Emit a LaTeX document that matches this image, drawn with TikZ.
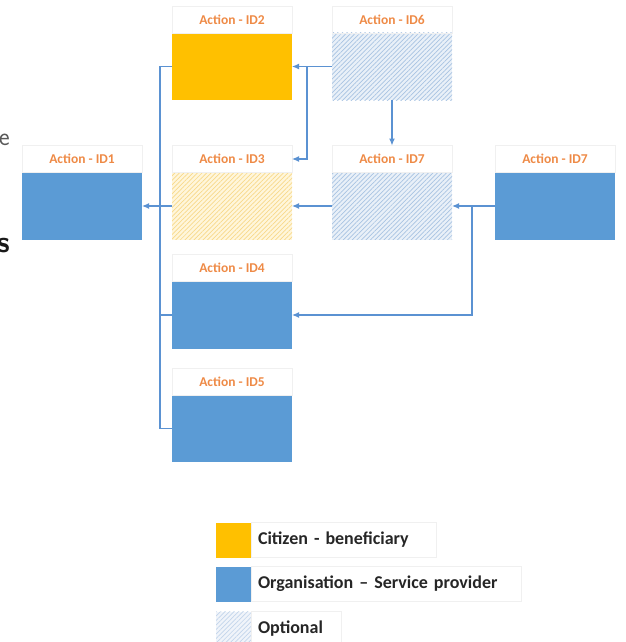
\documentclass[tikz,border=0pt]{standalone}
\usepackage{fontspec}
\setmainfont{Carlito}
\usetikzlibrary{positioning, arrows.meta, patterns.meta}

\definecolor{provblue}{HTML}{5B9BD5}
\definecolor{citzyellow}{HTML}{FFC000}
\definecolor{titleorange}{HTML}{EE8A46}
\definecolor{linkblue}{HTML}{5B92D2}
\definecolor{optbluebg}{HTML}{E9F0F8}
\definecolor{optblueln}{HTML}{A8C3E2}
\definecolor{optyellowbg}{HTML}{FFF6DB}
\definecolor{optyellowln}{HTML}{F8D98A}
\definecolor{faint}{HTML}{F0F0F0}

\begin{document}
\begin{tikzpicture}[
		x=1pt, y=-1pt,
		action/.style={minimum width=120pt, minimum height=67pt, inner sep=0pt, outer sep=0pt},
		provider/.style={action, fill=provblue},
		citizen/.style={action, fill=citzyellow},
		optprov/.style={action, preaction={fill=optbluebg},
			pattern={Lines[angle=45, distance=3.2pt, line width=0.7pt]}, pattern color=optblueln},
		optcitz/.style={action, preaction={fill=optyellowbg},
			pattern={Lines[angle=45, distance=3.2pt, line width=0.7pt]}, pattern color=optyellowln},
		title/.style={minimum width=120pt, minimum height=27pt, inner sep=0pt, outer sep=0pt,
			draw=faint, text=titleorange, font=\bfseries\fontsize{13.5}{15}\selectfont},
		key/.style={minimum size=35pt, inner sep=0pt, outer sep=0pt},
		keytext/.style={draw=faint, minimum height=35pt, inner xsep=7pt, outer sep=0pt,
			font=\bfseries\fontsize{18}{20}\selectfont, text=black!85},
		link/.style={draw=linkblue, line width=1.2pt},
		arrow/.style={link, -{Latex[length=7pt, width=6pt]}}
		]
	\useasboundingbox (0,0) rectangle (625,642);

	% --- Boîtes d'action ---
	\node[citizen]  (b2) at (232, 66.5) {};
	\node[optprov]  (b6) at (392, 66.5) {};
	\node[provider] (b1) at (82, 206) {};
	\node[optcitz]  (b3) at (232, 206) {};
	\node[optprov]  (b7) at (392, 206) {};
	\node[provider] (b8) at (555, 206) {};
	\node[provider] (b4) at (232, 315) {};
	\node[provider] (b5) at (232, 428.5) {};

	% --- Titres ---
	\node[title, above=0pt of b2] (t2) {Action - ID2};
	\node[title, above=0pt of b6] (t6) {Action - ID6};
	\node[title, above=0pt of b1] (t1) {Action - ID1};
	\node[title, above=0pt of b3] (t3) {Action - ID3};
	\node[title, above=0pt of b7] (t7) {Action - ID7};
	\node[title, above=0pt of b8] (t8) {Action - ID7};
	\node[title, above=0pt of b4] (t4) {Action - ID4};
	\node[title, above=0pt of b5] (t5) {Action - ID5};

	% --- Liaisons ---
	\coordinate (busT) at (160, 66.5);
	\coordinate (busB) at (160, 428.5);
	\coordinate (s6) at (307, 66.5);
	\coordinate (s8) at (472, 206);

	\draw[link] (b2.west) -- (busT) -- (busB) -- (b5.west);
	\draw[link] (b4.west) -- (b4.west -| busT);
	\draw[arrow] (b3.west) -- (b1.east);
	\draw[arrow] (b6.west) -- (b2.east);
	\draw[arrow] (s6) |- (t3.east);
	\draw[arrow] (b6.south) -- (t7.north);
	\draw[arrow] (b7.west) -- (b3.east);
	\draw[arrow] (b8.west) -- (b7.east);
	\draw[arrow] (s8) |- (b4.east);

	% --- Légende ---
	\node[key, fill=citzyellow] (k1) at (233.5, 540) {};
	\node[key, fill=provblue] (k2) at (233.5, 584) {};
	\node[key, preaction={fill=optbluebg!70},
		pattern={Lines[angle=45, distance=3.2pt, line width=0.7pt]}, pattern color=optblueln!70] (k3) at (233.5, 629) {};
	\node[keytext, right=0pt of k1, align=left, text width=171pt] (l1) {Citizen - beneficiary};
	\node[keytext, right=0pt of k2, align=left, text width=256pt] (l2) {Organisation -- Service provider};
	\node[keytext, right=0pt of k3, align=left, text width=76pt] (l3) {Optional};

	% --- Fragments de texte coupés au bord ---
	\node[anchor=east, inner sep=0pt, text=black!65, font=\sffamily\fontsize{26}{28}\selectfont] (frag1) at (10, 140) {e};
	\node[anchor=east, inner sep=0pt, text=black!90, font=\sffamily\bfseries\fontsize{30}{32}\selectfont] (frag2) at (10, 246) {s};
\end{tikzpicture}
\end{document}
